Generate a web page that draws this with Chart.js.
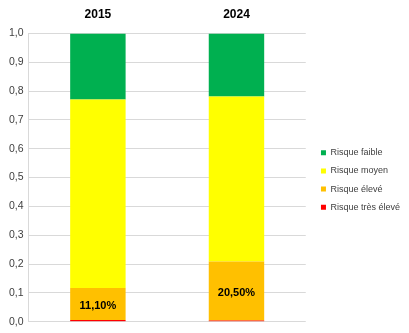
<!DOCTYPE html>
<html>
<head>
<meta charset="utf-8">
<script src="https://cdn.jsdelivr.net/npm/chart.js@4/dist/chart.umd.min.js"></script>
<style>
  html, body { margin: 0; padding: 0; background: #fff; }
  #wrap { width: 409px; height: 333px; }
</style>
</head>
<body>
<div id="wrap"><canvas id="risk-chart"></canvas></div>
<script>
const years = ["2015", "2024"];
const tresEleve = [0.006, 0.004];
const eleve = [0.111, 0.205];
const moyen = [0.654, 0.572];
const faible = [0.229, 0.219];
const yTicks = [0, 0.1, 0.2, 0.3, 0.4, 0.5, 0.6, 0.7, 0.8, 0.9, 1.0];

const FONT = "'Liberation Sans', Arial, sans-serif";

// writes the percentage in the middle of the "Risque élevé" segments
const segmentLabels = {
  id: "segmentLabels",
  afterDatasetsDraw(chart) {
    const ctx = chart.ctx;
    const meta = chart.getDatasetMeta(1);
    ctx.save();
    ctx.font = "bold 11px " + FONT;
    ctx.fillStyle = "#000";
    ctx.textAlign = "center";
    ctx.textBaseline = "middle";
    meta.data.forEach((bar, i) => {
      const txt = (eleve[i] * 100).toFixed(2).replace(".", ",") + "%";
      ctx.fillText(txt, bar.x, (bar.y + bar.base) / 2 + 2);
    });
    ctx.restore();
  }
};

// push the legend a bit to the right and down, next to the plot middle
const legendShift = {
  id: "legendShift",
  afterLayout(chart) {
    if (chart.legend) {
      chart.legend.left += 6;
      chart.legend.right += 6;
      chart.legend.top += 20;
      chart.legend.bottom += 20;
    }
  }
};

new Chart(document.getElementById("risk-chart"), {
  type: "bar",
  data: {
    labels: years,
    datasets: [
      { label: "Risque très élevé", data: tresEleve, backgroundColor: "#FF0000" },
      { label: "Risque élevé", data: eleve, backgroundColor: "#FFC000" },
      { label: "Risque moyen", data: moyen, backgroundColor: "#FFFF00" },
      { label: "Risque faible", data: faible, backgroundColor: "#00B050" }
    ]
  },
  options: {
    responsive: true,
    maintainAspectRatio: false,
    animation: false,
    categoryPercentage: 1,
    barPercentage: 0.4,
    layout: { padding: { top: -5, left: 4, right: 5, bottom: 8 } },
    plugins: {
      tooltip: { enabled: false },
      legend: {
        position: "right",
        reverse: true,
        labels: {
          boxWidth: 5,
          boxHeight: 5,
          padding: 9.2,
          color: "#404040",
          font: { family: FONT, size: 9 }
        }
      }
    },
    scales: {
      x: {
        stacked: true,
        position: "top",
        grid: { display: false, drawTicks: false },
        border: { display: false },
        ticks: {
          color: "#000",
          padding: 12,
          font: { family: FONT, size: 12, weight: "bold" }
        }
      },
      y: {
        stacked: true,
        min: 0,
        max: 1,
        afterBuildTicks(axis) {
          axis.ticks = yTicks.map(v => ({ value: v }));
        },
        grid: { color: "#D9D9D9", drawTicks: false },
        border: { color: "#D9D9D9" },
        ticks: {
          color: "#404040",
          padding: 5,
          font: { family: FONT, size: 10.5 },
          callback: v => v.toFixed(1).replace(".", ",")
        }
      }
    }
  },
  plugins: [segmentLabels, legendShift]
});
</script>
</body>
</html>
